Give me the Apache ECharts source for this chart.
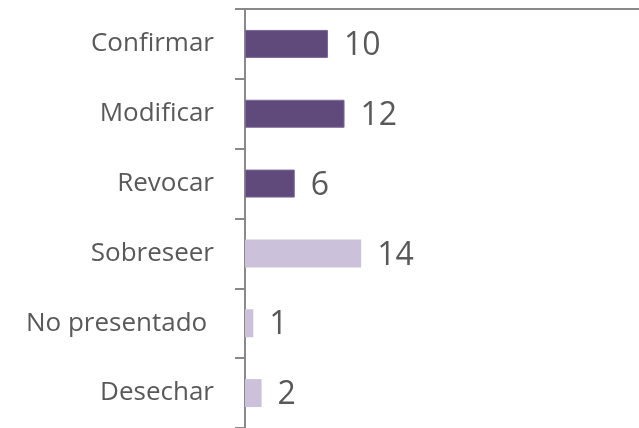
<!DOCTYPE html>
<html>
<head>
<meta charset="utf-8">
<script src="https://cdn.jsdelivr.net/npm/echarts@6/dist/echarts.min.js"></script>
<style>
  html, body { margin: 0; padding: 0; background: #fff; }
  #chart { width: 639px; height: 428px; }
</style>
</head>
<body>
<div id="chart"></div>
<script>
// categorias y valores, de arriba hacia abajo
const categories = ['Confirmar', 'Modificar', 'Revocar', 'Sobreseer', 'No presentado ', 'Desechar'];
const values = [10, 12, 6, 14, 1, 2];
const darkGroup = [true, true, true, false, false, false];

const axisGray = '#898989';
const textGray = '#595959';

const chart = echarts.init(document.getElementById('chart'));

chart.setOption({
  animation: false,
  grid: {left: 245, right: 0, top: 9, bottom: -1},
  xAxis: {
    type: 'value',
    position: 'top',
    min: 0,
    max: 47.5,
    axisLine: {show: true, lineStyle: {color: axisGray, width: 2}},
    axisTick: {show: false},
    axisLabel: {show: false},
    splitLine: {show: false}
  },
  yAxis: {
    type: 'category',
    inverse: true,
    data: categories,
    axisLine: {show: true, lineStyle: {color: axisGray, width: 2}},
    axisTick: {show: true, length: 10, lineStyle: {color: axisGray, width: 2}},
    axisLabel: {
      margin: 31,
      color: textGray,
      fontSize: 26,
      fontFamily: 'Open Sans'
    }
  },
  series: [{
    type: 'bar',
    barWidth: 28,
    data: values.map((v, i) => ({
      value: v,
      itemStyle: darkGroup[i]
        ? {color: '#604A7B', borderColor: '#7B6898', borderWidth: 1}
        : {color: '#CCC1DA'}
    })),
    label: {
      show: true,
      position: 'right',
      distance: 16,
      offset: [0, 2],
      color: textGray,
      fontSize: 32,
      fontFamily: 'Open Sans'
    }
  }]
});
</script>
</body>
</html>
